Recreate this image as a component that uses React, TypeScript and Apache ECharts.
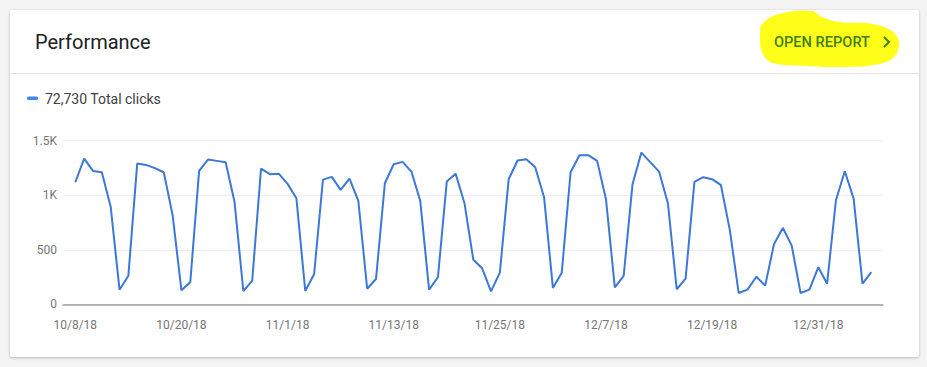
import React, { useEffect, useRef } from "react";
import * as echarts from "echarts";

const startDate = new Date(2018, 9, 8);
const clicks = [
  1119, 1336, 1223, 1211, 895, 134, 262, 1290, 1278, 1248, 1211, 819, 128, 202,
  1223, 1327, 1315, 1303, 941, 122, 214, 1244, 1193, 1198, 1104, 972, 122, 275,
  1143, 1168, 1049, 1152, 948, 143, 232, 1110, 1284, 1306, 1217, 948, 134, 248,
  1125, 1198, 927, 409, 330, 119, 290, 1147, 1318, 1330, 1257, 982, 150, 290,
  1211, 1367, 1367, 1315, 963, 156, 260, 1101, 1391, 1303, 1217, 927, 138, 235,
  1122, 1165, 1147, 1092, 682, 104, 134, 253, 171, 553, 700, 538, 104, 134,
  339, 189, 954, 1220, 969, 189, 294,
];
const categories = clicks.map((_, i) => {
  const d = new Date(startDate.getTime());
  d.setDate(d.getDate() + i);
  return `${d.getMonth() + 1}/${d.getDate()}/${String(d.getFullYear()).slice(2)}`;
});
const tickIndices = [0, 12, 24, 36, 48, 60, 72, 84];
const yTicks = [0, 500, 1000, 1500];
const yTickLabels = ["0", "500", "1K", "1.5K"];
const title = "Performance";
const linkText = "OPEN REPORT";
const legendText = "72,730 Total clicks";

export default function App() {
  const ref = useRef<HTMLDivElement>(null);
  useEffect(() => {
    if (!ref.current) return;
    const chart = echarts.init(ref.current, null, { renderer: "svg" });
    chart.setOption({
      animation: false,
      textStyle: { fontFamily: "Roboto" },
      grid: { left: 63, right: 44, top: 140.7, bottom: 62.7 },
      xAxis: {
        type: "value",
        min: -1.39,
        max: 91.32,
        axisLine: { show: true, lineStyle: { color: "#9e9e9e", width: 1.5 } },
        axisTick: { show: false },
        splitLine: { show: false },
        axisLabel: {
          customValues: tickIndices,
          formatter: (v: number) => categories[Math.round(v)] ?? "",
          color: "#757575",
          fontSize: 12,
          margin: 15,
          fontFamily: "Roboto",
        },
      },
      yAxis: {
        type: "value",
        min: 0,
        max: 1500,
        interval: 500,
        axisLine: { show: false },
        axisTick: { show: false },
        splitLine: { lineStyle: { color: "#eeeeee" } },
        axisLabel: {
          color: "#757575",
          fontSize: 12,
          margin: 6,
          fontFamily: "Roboto",
          formatter: (v: number) => yTickLabels[yTicks.indexOf(v)] ?? String(v),
        },
      },
      series: [
        {
          type: "line",
          data: clicks.map((v, i) => [i, v]),
          showSymbol: false,
          lineStyle: { color: "#3b78d8", width: 2 },
          itemStyle: { color: "#3b78d8" },
        },
      ],
      graphic: [
        {
          type: "polygon",
          shape: {
            points: [
              [763, 23], [783, 13], [812, 11], [822, 17], [840, 22], [873, 24],
              [893, 32], [899, 43], [893, 58], [873, 65], [840, 67], [807, 66],
              [773, 63], [763, 54], [760, 37],
            ],
            smooth: 0.4,
          },
          style: { fill: "#ffff1a" },
        },
        {
          type: "text",
          x: 35,
          y: 42,
          style: {
            text: title,
            fontSize: 20,
            fontFamily: "Roboto",
            fill: "#202124",
            verticalAlign: "middle",
          },
        },
        {
          type: "text",
          x: 774,
          y: 42,
          style: {
            text: linkText,
            fontSize: 14.6,
            fontWeight: 500,
            fontFamily: "Roboto",
            fill: "#3f7f12",
            verticalAlign: "middle",
          },
        },
        {
          type: "polyline",
          shape: { points: [[884, 37], [889, 42], [884, 47]] },
          style: { stroke: "#3f7f12", lineWidth: 2, fill: "none" },
        },
        {
          type: "line",
          shape: { x1: 10, y1: 73.5, x2: 919, y2: 73.5 },
          style: { stroke: "#e3e3e3", lineWidth: 1 },
        },
        {
          type: "rect",
          shape: { x: 27, y: 96.5, width: 11, height: 3.5, r: 1.5 },
          style: { fill: "#4285f4" },
        },
        {
          type: "text",
          x: 45,
          y: 98.5,
          style: {
            text: legendText,
            fontSize: 14,
            fontFamily: "Roboto",
            fill: "#3c4043",
            verticalAlign: "middle",
          },
        },
      ],
    });
    return () => chart.dispose();
  }, []);
  return (
    <div
      style={{
        position: "fixed",
        left: 0,
        top: 0,
        width: 927,
        height: 367,
        background: "#f3f3f3",
      }}
    >
      <div
        style={{
          position: "absolute",
          left: 10,
          top: 10,
          width: 909,
          height: 347,
          background: "#ffffff",
          boxShadow: "0 1px 3px rgba(0,0,0,0.25)",
          borderRadius: 2,
        }}
      />
      <div
        ref={ref}
        style={{ position: "absolute", left: 0, top: 0, width: 927, height: 367 }}
      />
    </div>
  );
}
